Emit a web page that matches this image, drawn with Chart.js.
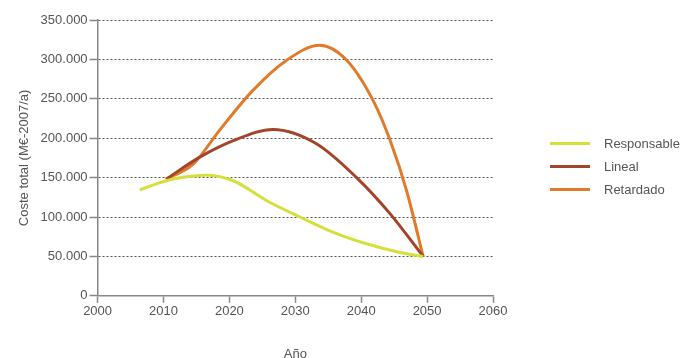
<!DOCTYPE html>
<html>
<head>
<meta charset="utf-8">
<script src="https://cdn.jsdelivr.net/npm/chart.js@4/dist/chart.umd.min.js"></script>
<style>
    html, body { margin: 0; padding: 0; background: #fff; }
    .wrap { position: relative; width: 692px; height: 358px; }
    .legend { position: absolute; left: 550px; top: 132px; font-family: "Liberation Sans", Arial, sans-serif; font-size: 13px; color: #555; }
    .legend .item { height: 23px; display: flex; align-items: center; }
    .legend .swatch { width: 40px; height: 3px; margin-right: 14px; }
</style>
</head>
<body>
<div class="wrap">
    <canvas id="costChart" width="692" height="358"></canvas>
    <div class="legend" id="legend"></div>
</div>
<script>
const seriesNames = ["Responsable", "Lineal", "Retardado"];
const seriesColors = ["#d6e03c", "#a3452b", "#e07b2c"];

const responsableYears = [2006.4, 2010.4, 2013.5, 2016.5, 2020.6, 2025.6, 2030.7, 2035.8, 2040.8, 2045.9, 2049.4];
const responsableValues = [134500, 146000, 151000, 153000, 146000, 121000, 100000, 80500, 66000, 55000, 50000];

const linealYears = [2010.4, 2015.5, 2020.6, 2026.6, 2033.2, 2039.3, 2044.4, 2049.4];
const linealValues = [148000, 176000, 197000, 211000, 193000, 150000, 104000, 50000];

const retardadoYears = [2010.4, 2014.5, 2018.5, 2023.6, 2028.7, 2033.7, 2037.8, 2041.8, 2044.4, 2046.9, 2049.4];
const retardadoValues = [148000, 167000, 210000, 261000, 299000, 318000, 299000, 248000, 197000, 133000, 50000];

const yTicks = [0, 50000, 100000, 150000, 200000, 250000, 300000, 350000];
const xTicks = [2000, 2010, 2020, 2030, 2040, 2050, 2060];

function toPoints(xs, ys) {
    return xs.map((x, i) => ({ x: x, y: ys[i] }));
}

function formatThousands(v) {
    return String(v).replace(/\B(?=(\d{3})+(?!\d))/g, ".");
}

const allYears = [responsableYears, linealYears, retardadoYears];
const allValues = [responsableValues, linealValues, retardadoValues];

const datasets = seriesNames.map((name, i) => ({
    label: name,
    data: toPoints(allYears[i], allValues[i]),
    borderColor: seriesColors[i],
    borderWidth: 3,
    pointRadius: 0,
    fill: false,
    cubicInterpolationMode: "monotone"
}));

// legend as plain html, lines + labels
const legendEl = document.getElementById("legend");
seriesNames.forEach((name, i) => {
    const item = document.createElement("div");
    item.className = "item";
    item.innerHTML = `<span class="swatch" style="background:${seriesColors[i]}"></span><span>${name}</span>`;
    legendEl.appendChild(item);
});

const fontFamily = "'Liberation Sans', Arial, sans-serif";
const tickFont = { family: fontFamily, size: 13 };

new Chart(document.getElementById("costChart"), {
    type: "line",
    data: { datasets: datasets },
    options: {
        responsive: false,
        animation: false,
        layout: { padding: { top: 20, right: 199, bottom: -4, left: 17 } },
        plugins: {
            legend: { display: false },
            tooltip: { enabled: false }
        },
        scales: {
            x: {
                type: "linear",
                min: 2000,
                max: 2060,
                afterBuildTicks: axis => { axis.ticks = xTicks.map(v => ({ value: v })); },
                ticks: { font: tickFont, color: "#555", padding: 1, maxRotation: 0, callback: v => String(v) },
                grid: { drawOnChartArea: false, drawTicks: true, tickLength: 7, tickColor: "#888", tickWidth: 1.5 },
                border: { color: "#888", width: 1.5 },
                title: { display: true, text: "Año", font: { family: fontFamily, size: 13 }, color: "#555", padding: { top: 26, bottom: 0 } }
            },
            y: {
                min: 0,
                max: 350000,
                afterBuildTicks: axis => { axis.ticks = yTicks.map(v => ({ value: v })); },
                ticks: { font: tickFont, color: "#555", padding: 2, callback: v => formatThousands(v) },
                grid: { color: "#555", lineWidth: 1, tickLength: 8, tickColor: "#888", tickWidth: 1.5, tickBorderDash: [] },
                border: { color: "#888", width: 1.5, dash: [2, 2] },
                title: { display: true, text: "Coste total (M€-2007/a)", font: { family: fontFamily, size: 13 }, color: "#555", padding: { top: 0, bottom: 6 } }
            }
        }
    }
});
</script>
</body>
</html>
